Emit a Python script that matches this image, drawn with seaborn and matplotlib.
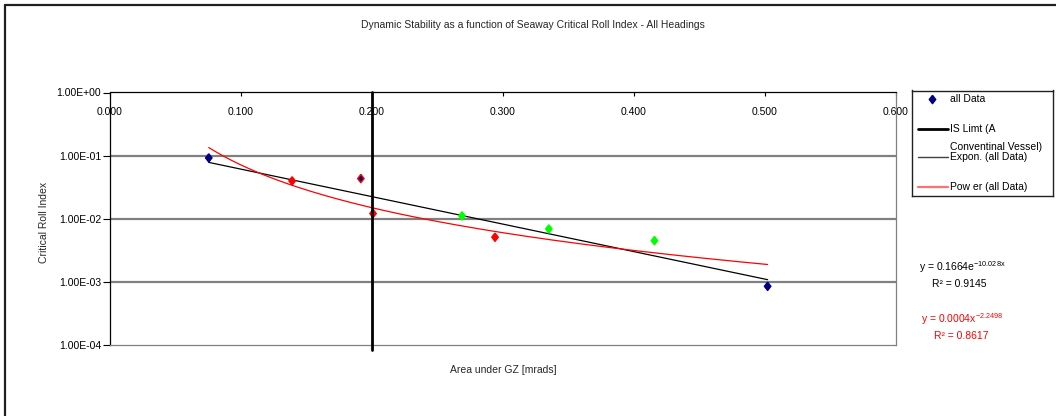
import numpy as np
import pandas as pd
import matplotlib
matplotlib.use("Agg")
import matplotlib.pyplot as plt
from matplotlib.lines import Line2D
import seaborn as sns

# ---- data ----
area_gz = [0.0754, 0.139, 0.1915, 0.2008, 0.2687, 0.2939, 0.335, 0.4156, 0.502]
roll_index = [0.092, 0.0398, 0.0433, 0.0121, 0.0111, 0.0051, 0.0069, 0.0045, 0.00085]
point_group = ["navy", "red", "navy", "red", "green", "red", "green", "green", "navy"]
point_edge = ["navy", "red", "red", "red", "green", "red", "green", "green", "navy"]

# fitted trend line coefficients
exp_a, exp_b = 0.1664, -10.028
pow_a, pow_b = 0.0004, -2.2498
exp_r2 = 0.9145
pow_r2 = 0.8617
is_limit_x = 0.200

x_ticks = [0.0, 0.1, 0.2, 0.3, 0.4, 0.5, 0.6]
x_tick_labels = ["0.000", "0.100", "0.200", "0.300", "0.400", "0.500", "0.600"]
y_ticks = [1e-4, 1e-3, 1e-2, 1e-1, 1e0]
y_tick_labels = ["1.00E-04", "1.00E-03", "1.00E-02", "1.00E-01", "1.00E+00"]

palette = {"navy": "#000080", "red": "#ff0000", "green": "#00ff00"}

# slightly tall diamond marker
diamond = [(0, 1), (0.78, 0), (0, -1), (-0.78, 0), (0, 1)]

sns.set_theme(style="white")
plt.rcParams["font.family"] = ["Liberation Sans", "DejaVu Sans"]
plt.rcParams["mathtext.fontset"] = "custom"
plt.rcParams["mathtext.rm"] = "Liberation Sans"
plt.rcParams["mathtext.it"] = "Liberation Sans"

W, H = 1056, 416
fig = plt.figure(figsize=(W / 100, H / 100), dpi=100)


def px(x, y):
    return x / W, 1 - y / H


left, right, top, bottom = 110, 896, 92.5, 345
ax = fig.add_axes([left / W, 1 - bottom / H, (right - left) / W, (bottom - top) / H])

df = pd.DataFrame({"area": area_gz, "cri": roll_index, "group": point_group})

# trend lines from the fitted equations
xs = np.linspace(min(area_gz), max(area_gz), 200)
trend = pd.DataFrame({
    "area": np.concatenate([xs, xs]),
    "cri": np.concatenate([exp_a * np.exp(exp_b * xs), pow_a * xs ** pow_b]),
    "fit": ["Expon."] * len(xs) + ["Power"] * len(xs),
})
sns.lineplot(data=trend, x="area", y="cri", hue="fit",
             palette={"Expon.": "black", "Power": "#ff0000"},
             linewidth=0.9, legend=False, ax=ax, zorder=3)

sns.scatterplot(data=df, x="area", y="cri", hue="group", palette=palette,
                marker=diamond, s=36, linewidth=1.0, legend=False, ax=ax, zorder=4)
coll = ax.collections[-1]
coll.set_edgecolors([palette[c] for c in point_edge])

# IS limit line
ax.axvline(is_limit_x, ymin=-0.02, ymax=1, color="black", linewidth=2.0,
           clip_on=False, zorder=5)

ax.set_yscale("log")
ax.set_ylim(1e-4, 1e0)
ax.set_xlim(0, 0.6)
ax.set_yticks(y_ticks)
ax.set_yticklabels(y_tick_labels)
ax.yaxis.set_minor_locator(matplotlib.ticker.NullLocator())
ax.set_xticks(x_ticks)
ax.set_xticklabels(x_tick_labels)

for yv in y_ticks[1:-1]:
    ax.axhline(yv, color="#808080", linewidth=1.6, zorder=1)

ax.xaxis.tick_top()
ax.tick_params(axis="x", which="major", direction="in", length=3, width=0.8,
               color="black", pad=-17.5, labelsize=7.5, labelcolor="black")
ax.tick_params(axis="y", which="major", direction="out", length=5, width=0.8,
               color="black", pad=1.5, labelsize=7.5, labelcolor="black", left=True)

for side, col in [("left", "black"), ("top", "black"), ("right", "#808080"), ("bottom", "#808080")]:
    ax.spines[side].set_visible(True)
    ax.spines[side].set_color(col)
    ax.spines[side].set_linewidth(0.9)

ax.set_xlabel("")
ax.set_ylabel("")
fig.text(*px(503, 370), "Area under GZ [mrads]", ha="center", va="center", fontsize=7.5)
fig.text(*px(44, 222), "Critical Roll Index", ha="center", va="center",
         rotation=90, fontsize=7.5)
fig.text(*px(533, 25), "Dynamic Stability as a function of Seaway Critical Roll Index - All Headings",
         ha="center", va="center", fontsize=7.5)

# trend equations
fig.text(*px(919, 267), r"y = 0.1664e$^{\mathrm{-10.028x}}$", ha="left", va="center",
         fontsize=7.5, color="black")
fig.text(*px(932, 284), "R² = %.4f" % exp_r2, ha="left", va="center", fontsize=7.5, color="black")
fig.text(*px(921, 319), r"y = 0.0004x$^{\mathrm{-2.2498}}$", ha="left", va="center",
         fontsize=7.5, color="#ff0000")
fig.text(*px(934, 336), "R² = %.4f" % pow_r2, ha="left", va="center", fontsize=7.5, color="#ff0000")

# legend box
lg_l, lg_t, lg_r, lg_b = 911.5, 90.5, 1052.5, 196.5
lax = fig.add_axes([lg_l / W, 1 - lg_b / H, (lg_r - lg_l) / W, (lg_b - lg_t) / H])
lax.set_xlim(lg_l, lg_r)
lax.set_ylim(lg_b, lg_t)
lax.set_xticks([])
lax.set_yticks([])
for s in lax.spines.values():
    s.set_color("#202020")
    s.set_linewidth(1.0)
lax.add_line(Line2D([931.5], [99], marker=diamond, markersize=6, color="#000080",
                    linestyle="none"))
lax.add_line(Line2D([918, 948], [129, 129], color="black", linewidth=2.0))
lax.add_line(Line2D([918, 948], [157, 157], color="#404040", linewidth=1.0))
lax.add_line(Line2D([918, 948], [187, 187], color="#ff7070", linewidth=1.6))
for ty, txt in [(99, "all Data"), (129, "IS Limt (A"), (147.5, "Conventinal Vessel)"),
                (157.5, "Expon. (all Data)"), (187, "Pow er (all Data)")]:
    lax.text(950, ty, txt, ha="left", va="center", fontsize=7.5, color="black")

# chart area border
fig.add_artist(Line2D([4.5 / W, 1.0], [1 - 4.5 / H, 1 - 4.5 / H], color="#202020",
                      linewidth=1.6, transform=fig.transFigure))
fig.add_artist(Line2D([4.5 / W, 4.5 / W], [1 - 4.5 / H, 0.0], color="#202020",
                      linewidth=1.6, transform=fig.transFigure))

fig.savefig("out.png", dpi=100)
